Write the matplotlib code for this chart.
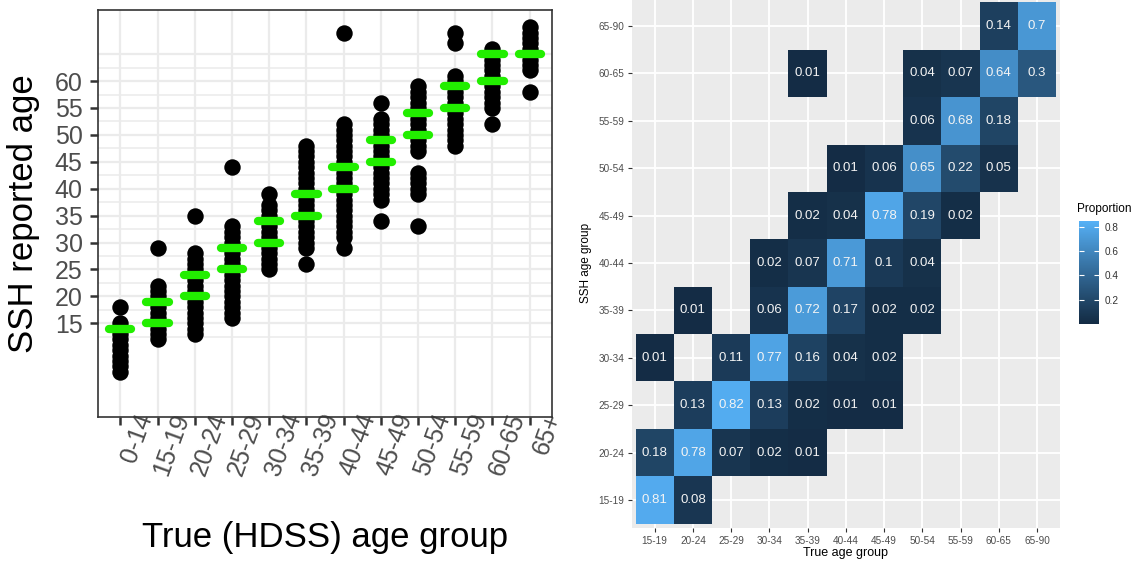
import numpy as np
import matplotlib
matplotlib.use("Agg")
import matplotlib.pyplot as plt
import matplotlib.colors as mcolors
from matplotlib.transforms import ScaledTranslation

plt.rcParams.update({
    "font.family": ["Liberation Sans", "DejaVu Sans"],
    "figure.facecolor": "white",
})

# ---- left panel data: reported ages per true age group ----
true_groups = ["0-14", "15-19", "20-24", "25-29", "30-34", "35-39",
               "40-44", "45-49", "50-54", "55-59", "60-65", "65+"]
reported = [
    list(range(6, 16)) + [18],
    list(range(12, 23)) + [29],
    list(range(13, 29)) + [35],
    list(range(16, 34)) + [44],
    list(range(25, 38)) + [39],
    list(range(29, 49)) + [26],
    list(range(31, 53)) + [29, 69],
    list(range(38, 54)) + [56, 34],
    list(range(47, 60)) + list(range(39, 44)) + [33],
    list(range(48, 62)) + [67, 69],
    list(range(55, 67)) + [52],
    list(range(62, 71)) + [58],
]
# group bounds drawn as green bars
bounds = [[14], [15, 19], [20, 24], [25, 29], [30, 34], [35, 39],
          [40, 44], [45, 49], [50, 54], [55, 59], [60, 65], [65]]
y_ticks = list(range(15, 61, 5))

# ---- right panel data: proportions (row = SSH group, col = true group) ----
groups = ["15-19", "20-24", "25-29", "30-34", "35-39", "40-44",
          "45-49", "50-54", "55-59", "60-65", "65-90"]
prop_rows = {
    "15-19": {"15-19": 0.81, "20-24": 0.08},
    "20-24": {"15-19": 0.18, "20-24": 0.78, "25-29": 0.07, "30-34": 0.02, "35-39": 0.01},
    "25-29": {"20-24": 0.13, "25-29": 0.82, "30-34": 0.13, "35-39": 0.02, "40-44": 0.01, "45-49": 0.01},
    "30-34": {"15-19": 0.01, "25-29": 0.11, "30-34": 0.77, "35-39": 0.16, "40-44": 0.04, "45-49": 0.02},
    "35-39": {"20-24": 0.01, "30-34": 0.06, "35-39": 0.72, "40-44": 0.17, "45-49": 0.02, "50-54": 0.02},
    "40-44": {"30-34": 0.02, "35-39": 0.07, "40-44": 0.71, "45-49": 0.1, "50-54": 0.04},
    "45-49": {"35-39": 0.02, "40-44": 0.04, "45-49": 0.78, "50-54": 0.19, "55-59": 0.02},
    "50-54": {"40-44": 0.01, "45-49": 0.06, "50-54": 0.65, "55-59": 0.22, "60-65": 0.05},
    "55-59": {"50-54": 0.06, "55-59": 0.68, "60-65": 0.18},
    "60-65": {"35-39": 0.01, "50-54": 0.04, "55-59": 0.07, "60-65": 0.64, "65-90": 0.3},
    "65-90": {"60-65": 0.14, "65-90": 0.7},
}
cbar_ticks = [0.2, 0.4, 0.6, 0.8]


# ggplot-style gradient: interpolate in CIELAB
def _srgb_to_lab(rgb):
    c = np.asarray(rgb, float)
    c = np.where(c <= 0.04045, c / 12.92, ((c + 0.055) / 1.055) ** 2.4)
    m = np.array([[0.4124, 0.3576, 0.1805], [0.2126, 0.7152, 0.0722], [0.0193, 0.1192, 0.9505]])
    xyz = m @ c / np.array([0.95047, 1.0, 1.08883])
    f = np.where(xyz > 0.008856, np.cbrt(xyz), 7.787 * xyz + 16 / 116)
    return np.array([116 * f[1] - 16, 500 * (f[0] - f[1]), 200 * (f[1] - f[2])])


def _lab_to_srgb(lab):
    L, a, b = lab
    fy = (L + 16) / 116
    f = np.array([fy + a / 500, fy, fy - b / 200])
    xyz = np.where(f ** 3 > 0.008856, f ** 3, (f - 16 / 116) / 7.787) * np.array([0.95047, 1.0, 1.08883])
    m = np.array([[3.2406, -1.5372, -0.4986], [-0.9689, 1.8758, 0.0415], [0.0557, -0.2040, 1.0570]])
    c = m @ xyz
    c = np.where(c <= 0.0031308, 12.92 * c, 1.055 * np.clip(c, 0, None) ** (1 / 2.4) - 0.055)
    return np.clip(c, 0, 1)


lo = _srgb_to_lab(mcolors.to_rgb("#132B43"))
hi = _srgb_to_lab(mcolors.to_rgb("#56B1F7"))
cmap = mcolors.ListedColormap([_lab_to_srgb(lo + (hi - lo) * t) for t in np.linspace(0, 1, 256)])

W, H = 1147, 563
fig = plt.figure(figsize=(W / 100, H / 100), dpi=100)


def px_axes(left, top, right, bottom):
    return fig.add_axes([left / W, 1 - bottom / H, (right - left) / W, (bottom - top) / H])


# ================= left panel =================
ax = px_axes(98, 10, 552, 417)
ax.set_xlim(0.4, 12.6)
ax.set_ylim(-2.4, 73.2)
grid_c = "#EBEBEB"
for i in range(1, 13):
    ax.axvline(i, color=grid_c, lw=1.6, zorder=0)
for v in np.arange(12.5, 65.1, 2.5):
    ax.axhline(v, color=grid_c, lw=1.6 if v % 5 == 0 else 1.1, zorder=0)

for i, vals in enumerate(reported, start=1):
    ax.scatter(np.full(len(vals), i), vals, s=140, color="black", zorder=2, linewidths=0)
for i, bs in enumerate(bounds, start=1):
    for b in bs:
        ax.plot([i - 0.3, i + 0.3], [b, b], color="#22ee00", lw=6,
                solid_capstyle="round", zorder=3)

for sp in ax.spines.values():
    sp.set_color("#333333")
    sp.set_linewidth(1.2)
ax.set_yticks(y_ticks)
ax.set_yticklabels([str(t) for t in y_ticks])
ax.set_xticks(range(1, 13))
ax.set_xticklabels(true_groups, rotation=70, ha="right", va="top", rotation_mode="anchor")
ax.tick_params(axis="y", length=6, width=1.8, color="#333333", pad=5,
               labelsize=18, labelcolor="#4D4D4D")
ax.tick_params(axis="x", length=6, width=1.8, color="#333333", pad=-11,
               labelsize=18, labelcolor="#4D4D4D")
shift = ScaledTranslation(0.14, 0, fig.dpi_scale_trans)
for lab in ax.get_xticklabels():
    lab.set_transform(lab.get_transform() + shift)
ax.set_xlabel("True (HDSS) age group", fontsize=25, va="center")
ax.xaxis.set_label_coords(0.5, -0.297)
ax.set_ylabel("SSH reported age", fontsize=25, va="center")
ax.yaxis.set_label_coords(-0.165, 0.5)

# ================= right panel =================
ax2 = px_axes(631.7, -2.4, 1060, 528.4)
ax2.set_facecolor("#EBEBEB")
n = len(groups)
ax2.set_xlim(0.4, n + 0.6)
ax2.set_ylim(0.4, n + 0.6)
for i in range(1, n + 1):
    ax2.axvline(i, color="white", lw=1.3, zorder=0)
    ax2.axhline(i, color="white", lw=1.3, zorder=0)

norm = mcolors.Normalize(vmin=0.0, vmax=0.85)
mat = np.full((n, n), np.nan)
for r, row in prop_rows.items():
    for c, v in row.items():
        mat[groups.index(r), groups.index(c)] = v
mesh = ax2.pcolormesh(np.arange(0.5, n + 1), np.arange(0.5, n + 1),
                      np.ma.masked_invalid(mat), cmap=cmap, norm=norm, zorder=1)
for r, row in prop_rows.items():
    for c, v in row.items():
        ax2.text(groups.index(c) + 1, groups.index(r) + 1, f"{v:g}", color="#F4F4F4",
                 ha="center", va="center", fontsize=9.5, zorder=2)

for sp in ax2.spines.values():
    sp.set_visible(False)
ax2.set_xticks(range(1, n + 1))
ax2.set_xticklabels(groups)
ax2.set_yticks(range(1, n + 1))
ax2.set_yticklabels(groups)
ax2.tick_params(length=3, width=0.8, color="#333333", pad=2.2,
                labelsize=7.2, labelcolor="#4D4D4D")
ax2.set_xlabel("True age group", fontsize=9, va="center")
ax2.xaxis.set_label_coords(0.5, -0.046)
ax2.set_ylabel("SSH age group", fontsize=8.5, va="center")
ax2.yaxis.set_label_coords(-0.107, 0.5)

# colorbar
cax = px_axes(1079, 220.7, 1099, 324)
cb = fig.colorbar(mesh, cax=cax, ticks=cbar_ticks)
cb.outline.set_visible(False)
cb.ax.set_yticklabels([f"{t:g}" for t in cbar_ticks])
cb.ax.tick_params(direction="in", length=3.5, width=0.8, color="white",
                  labelsize=7.2, labelcolor="#333333", left=True, right=True, pad=4)
fig.text(1077 / W, 1 - 209 / H, "Proportion", fontsize=8.5, ha="left", va="center")

fig.savefig("out.png", dpi=100)
